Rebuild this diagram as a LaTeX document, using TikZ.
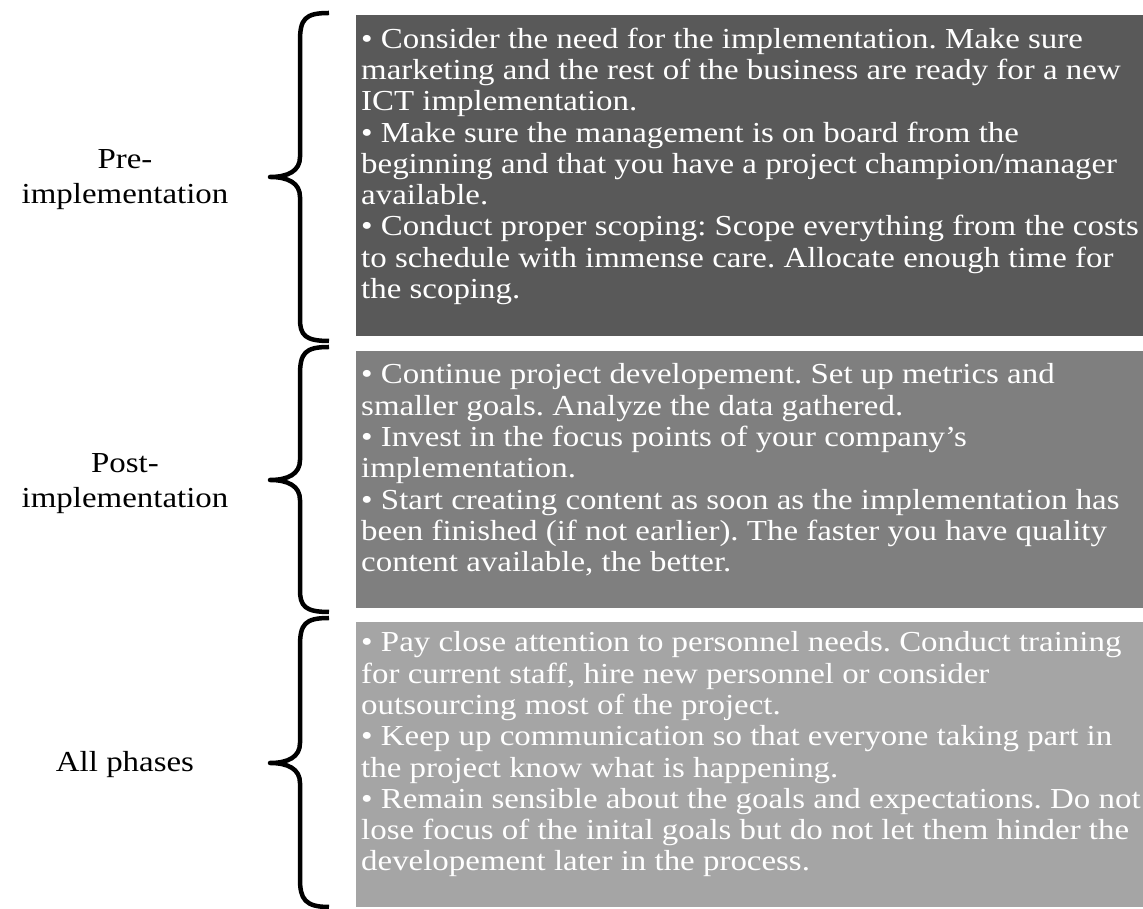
\documentclass[tikz,border=0pt]{standalone}
\usepackage{fontspec}
\setmainfont{Liberation Serif}[FakeStretch=1.135]
\frenchspacing
\definecolor{boxdark}{HTML}{595959}
\definecolor{boxmid}{HTML}{7F7F7F}
\definecolor{boxlight}{HTML}{A5A5A5}
\begin{document}
\begin{tikzpicture}[x=1pt,y=1pt,
  boxtext/.style={inner sep=0pt, anchor=north west, align=left, text=white,
    font=\fontsize{29}{31.3}\selectfont},
  phaselabel/.style={inner sep=0pt, align=center, text=black,
    font=\fontsize{29}{35}\selectfont},
  bracepath/.style={line width=4.5pt, line join=round, draw=black}]
\useasboundingbox (0,0) rectangle (1143,909);

% shaded content boxes
\fill[boxdark]  (356,573) rectangle (1143,894);
\fill[boxmid]   (356,301) rectangle (1143,558);
\fill[boxlight] (356,2)   rectangle (1143,287);

\node[boxtext] (t1) at (361,881.5) {%
• Consider the need for the implementation. Make sure\\
marketing and the rest of the business are ready for a new\\
ICT implementation.\\
• Make sure the management is on board from the\\
beginning and that you have a project champion/manager\\
available.\\
• Conduct proper scoping: Scope everything from the costs\\
to schedule with immense care. Allocate enough time for\\
the scoping.};

\node[boxtext] (t2) at (361,545.5) {%
• Continue project developement. Set up metrics and\\
smaller goals. Analyze the data gathered.\\
• Invest in the focus points of your company's\\
implementation.\\
• Start creating content as soon as the implementation has\\
been finished (if not earlier). The faster you have quality\\
content available, the better.};

\node[boxtext] (t3) at (361,277.5) {%
• Pay close attention to personnel needs. Conduct training\\
for current staff, hire new personnel or consider\\
outsourcing most of the project.\\
• Keep up communication so that everyone taking part in\\
the project know what is happening.\\
• Remain sensible about the goals and expectations. Do not\\
lose focus of the inital goals but do not let them hinder the\\
developement later in the process.};

% phase labels
\node[phaselabel, anchor=north] (l1) at (125,760) {Pre-\\implementation};
\node[phaselabel, anchor=north] (l2) at (125,456) {Post-\\implementation};
\node[phaselabel, anchor=base] (l3) at (125,137) {All phases};

% curly braces: top end, left cusp, bottom end
\draw[bracepath] (329,896) .. controls (305,896) and (300,890) .. (300,868)
  -- (300,752) .. controls (300,738) and (288,732) .. (270,732)
  .. controls (288,732) and (300,726) .. (300,712)
  -- (300,590) .. controls (300,574) and (305,568) .. (329,568);
\draw[bracepath] (329,562) .. controls (305,562) and (300,556) .. (300,534)
  -- (300,449) .. controls (300,435) and (288,429) .. (270,429)
  .. controls (288,429) and (300,423) .. (300,409)
  -- (300,319) .. controls (300,303) and (305,297) .. (329,297);
\draw[bracepath] (329,291) .. controls (305,291) and (300,285) .. (300,263)
  -- (300,166) .. controls (300,152) and (288,146) .. (270,146)
  .. controls (288,146) and (300,140) .. (300,126)
  -- (300,30) .. controls (300,10) and (305,2) .. (329,2);
\end{tikzpicture}
\end{document}
